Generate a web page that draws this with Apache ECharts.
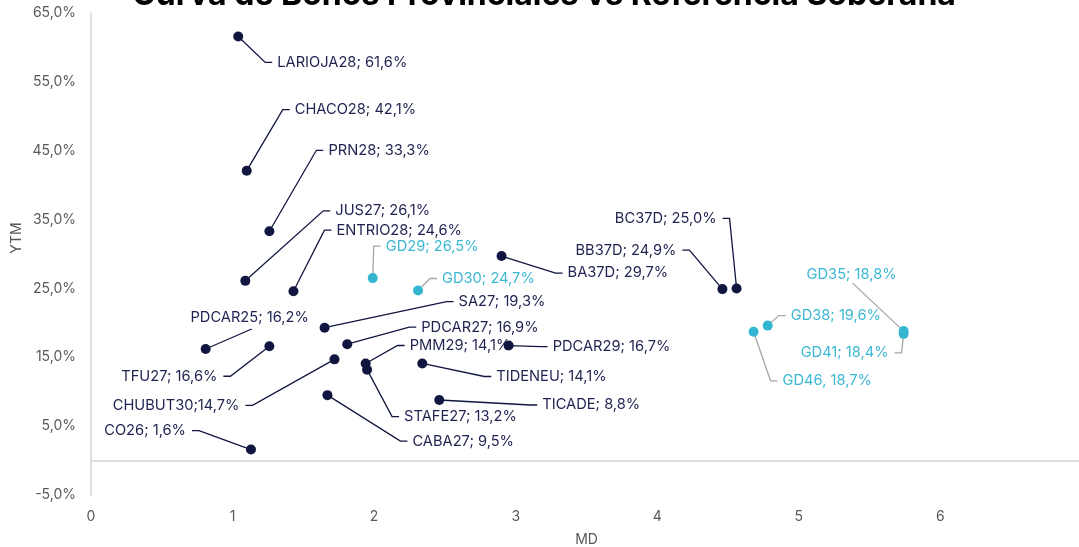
<!DOCTYPE html>
<html>
<head>
<meta charset="utf-8">
<script src="https://cdn.jsdelivr.net/npm/echarts@6/dist/echarts.min.js"></script>
<style>
html,body{margin:0;padding:0;background:#fff;}
#chart{width:1079px;height:547px;}
</style>
</head>
<body>
<div id="chart"></div>
<script>
// ---- data ----
const bonds = ['LARIOJA28','CHACO28','PRN28','JUS27','ENTRIO28','GD29','GD30','BA37D','BB37D','BC37D',
  'GD35','GD41','GD38','GD46','PDCAR25','TFU27','SA27','PDCAR27','PDCAR29','PMM29',
  'STAFE27','TIDENEU','CHUBUT30','TICADE','CABA27','CO26'];
const md = [1.04,1.10,1.26,1.09,1.43,1.99,2.31,2.90,4.46,4.56,
  5.74,5.74,4.78,4.68,0.81,1.26,1.65,1.81,2.95,1.94,
  1.95,2.34,1.72,2.46,1.67,1.13];
const ytm = [61.6,42.1,33.3,26.1,24.6,26.5,24.7,29.7,24.9,25.0,
  18.8,18.4,19.6,18.7,16.2,16.6,19.3,16.9,16.7,14.1,
  13.2,14.1,14.7,8.8,9.5,1.6];
const group = ['p','p','p','p','p','s','s','p','p','p',
  's','s','s','s','p','p','p','p','p','p',
  'p','p','p','p','p','p'];
const labelTexts = ['LARIOJA28; 61,6%','CHACO28; 42,1%','PRN28; 33,3%','JUS27; 26,1%','ENTRIO28; 24,6%',
  'GD29; 26,5%','GD30; 24,7%','BA37D; 29,7%','BB37D; 24,9%','BC37D; 25,0%',
  'GD35; 18,8%','GD41; 18,4%','GD38; 19,6%','GD46, 18,7%','PDCAR25; 16,2%',
  'TFU27; 16,6%','SA27; 19,3%','PDCAR27; 16,9%','PDCAR29; 16,7%','PMM29; 14,1%',
  'STAFE27; 13,2%','TIDENEU; 14,1%','CHUBUT30;14,7%','TICADE; 8,8%','CABA27; 9,5%','CO26; 1,6%'];
const yTicks = [-5,5,15,25,35,45,55,65];
const xTicks = [0,1,2,3,4,5,6];

// ---- label leader layout (pixel offsets from the point; style only) ----
// [elbowDx, elbowDy, mode, textDx, textDy]  mode: r = text right of elbow, l = text left, a = text above line end
const labelLayout = [
  [27,26,'r'],[36,-61,'r'],[47,-81,'r'],[78,-70,'r'],[31,-61,'r'],
  [1,-32,'r'],[12,-12,'r'],[54,17,'r'],[-33,-39,'l'],[-7,-70,'l'],
  [-51,-48,'a',-52,-57],[-2,19,'l'],[11,-10,'r'],[17,49,'r'],[46,-20,'a',44,-31],
  [-39,30,'l'],[122,-26,'r'],[62,-17,'r'],[32,1,'r'],[32,-18,'r'],
  [25,47,'r'],[62,13,'r'],[-82,46,'l'],[91,5,'r'],[73,46,'r'],[-52,-19,'l']
];

const NAVY = '#10163f';
const NAVY_TXT = '#1f2350';
const CYAN = '#35b6d0';
const CYAN_TXT = '#3cb8d3';
const FONT = 'Inter, "Noto Sans", sans-serif';
const LBL = '14.67px ' + FONT;

const provData = [], sobData = [], allData = [];
bonds.forEach((b,i)=>{
  const item = {name:b, value:[md[i], ytm[i], i]};
  allData.push(item);
  (group[i]==='s' ? sobData : provData).push(item);
});

function fmtPct(v){ return v.toFixed(1).replace('.',',') + '%'; }

const chart = echarts.init(document.getElementById('chart'), null, {renderer:'canvas'});
chart.setOption({
  animation:false,
  backgroundColor:'#fff',
  title:{
    text:'Curva de Bonos Provinciales vs Referencia Soberana',
    left:544, textAlign:'center', top:-21, padding:0,
    textStyle:{fontFamily:FONT, fontSize:32, fontWeight:'bold', color:'#000'}
  },
  grid:{left:91, width:991, top:13, bottom:52, containLabel:false, outerBoundsMode:'none'},
  xAxis:{
    type:'value', min:0, max:7, interval:1,
    name:'MD', nameLocation:'middle', nameGap:38,
    nameTextStyle:{fontFamily:FONT, fontSize:14, color:'#595959'},
    axisLine:{show:false}, axisTick:{show:false}, splitLine:{show:false},
    axisLabel:{fontFamily:FONT, fontSize:14, color:'#595959', margin:15,
      formatter:(v)=> xTicks.indexOf(v)>=0 ? String(v) : ''}
  },
  yAxis:{
    type:'value', min:-5, max:65, interval:10,
    axisLine:{show:true, lineStyle:{color:'#d4d4d4', width:1.5}},
    axisTick:{show:false}, splitLine:{show:false},
    axisLabel:{fontFamily:FONT, fontSize:14, color:'#595959', margin:15,
      formatter:(v)=> yTicks.indexOf(v)>=0 ? fmtPct(v) : ''}
  },
  graphic:[{
    type:'text', x:17, y:238, rotation:Math.PI/2,
    style:{text:'YTM', fill:'#595959', font:'14px '+FONT, align:'center', verticalAlign:'middle'}
  }],
  series:[
    {
      type:'custom', z:2, silent:true,
      data: allData,
      renderItem:function(params, api){
        const i = api.value(2);
        const p = api.coord([api.value(0), api.value(1)]);
        const L = labelLayout[i];
        const isS = group[i]==='s';
        const lineColor = isS ? '#a6a6a6' : NAVY;
        const txtColor = isS ? CYAN_TXT : NAVY_TXT;
        const e = [p[0]+L[0], p[1]+L[1]];
        let pts, tx, ty, align;
        if (L[2]==='r'){ pts=[p,e,[e[0]+7,e[1]]]; tx=e[0]+12; ty=e[1]; align='left'; }
        else if (L[2]==='l'){ pts=[p,e,[e[0]-7,e[1]]]; tx=e[0]-13; ty=e[1]; align='right'; }
        else { pts=[p,e]; tx=p[0]+L[3]; ty=p[1]+L[4]; align='center'; }
        return {type:'group', children:[
          {type:'polyline', shape:{points:pts}, style:{stroke:lineColor, lineWidth:1.3, fill:null}},
          {type:'text', style:{text:labelTexts[i], x:tx, y:ty, align:align, verticalAlign:'middle',
            fill:txtColor, font:LBL}}
        ]};
      },
      markLine:{
        silent:true, symbol:'none', label:{show:false},
        lineStyle:{color:'#d4d4d4', width:1.5, type:'solid'},
        data:[{yAxis:0}]
      }
    },
    {type:'scatter', name:'Provinciales', z:5, data:provData, symbolSize:10,
      itemStyle:{color:NAVY, opacity:1}},
    {type:'scatter', name:'Soberanos', z:5, data:sobData, symbolSize:10,
      itemStyle:{color:CYAN, opacity:1}}
  ]
});
</script>
</body>
</html>
